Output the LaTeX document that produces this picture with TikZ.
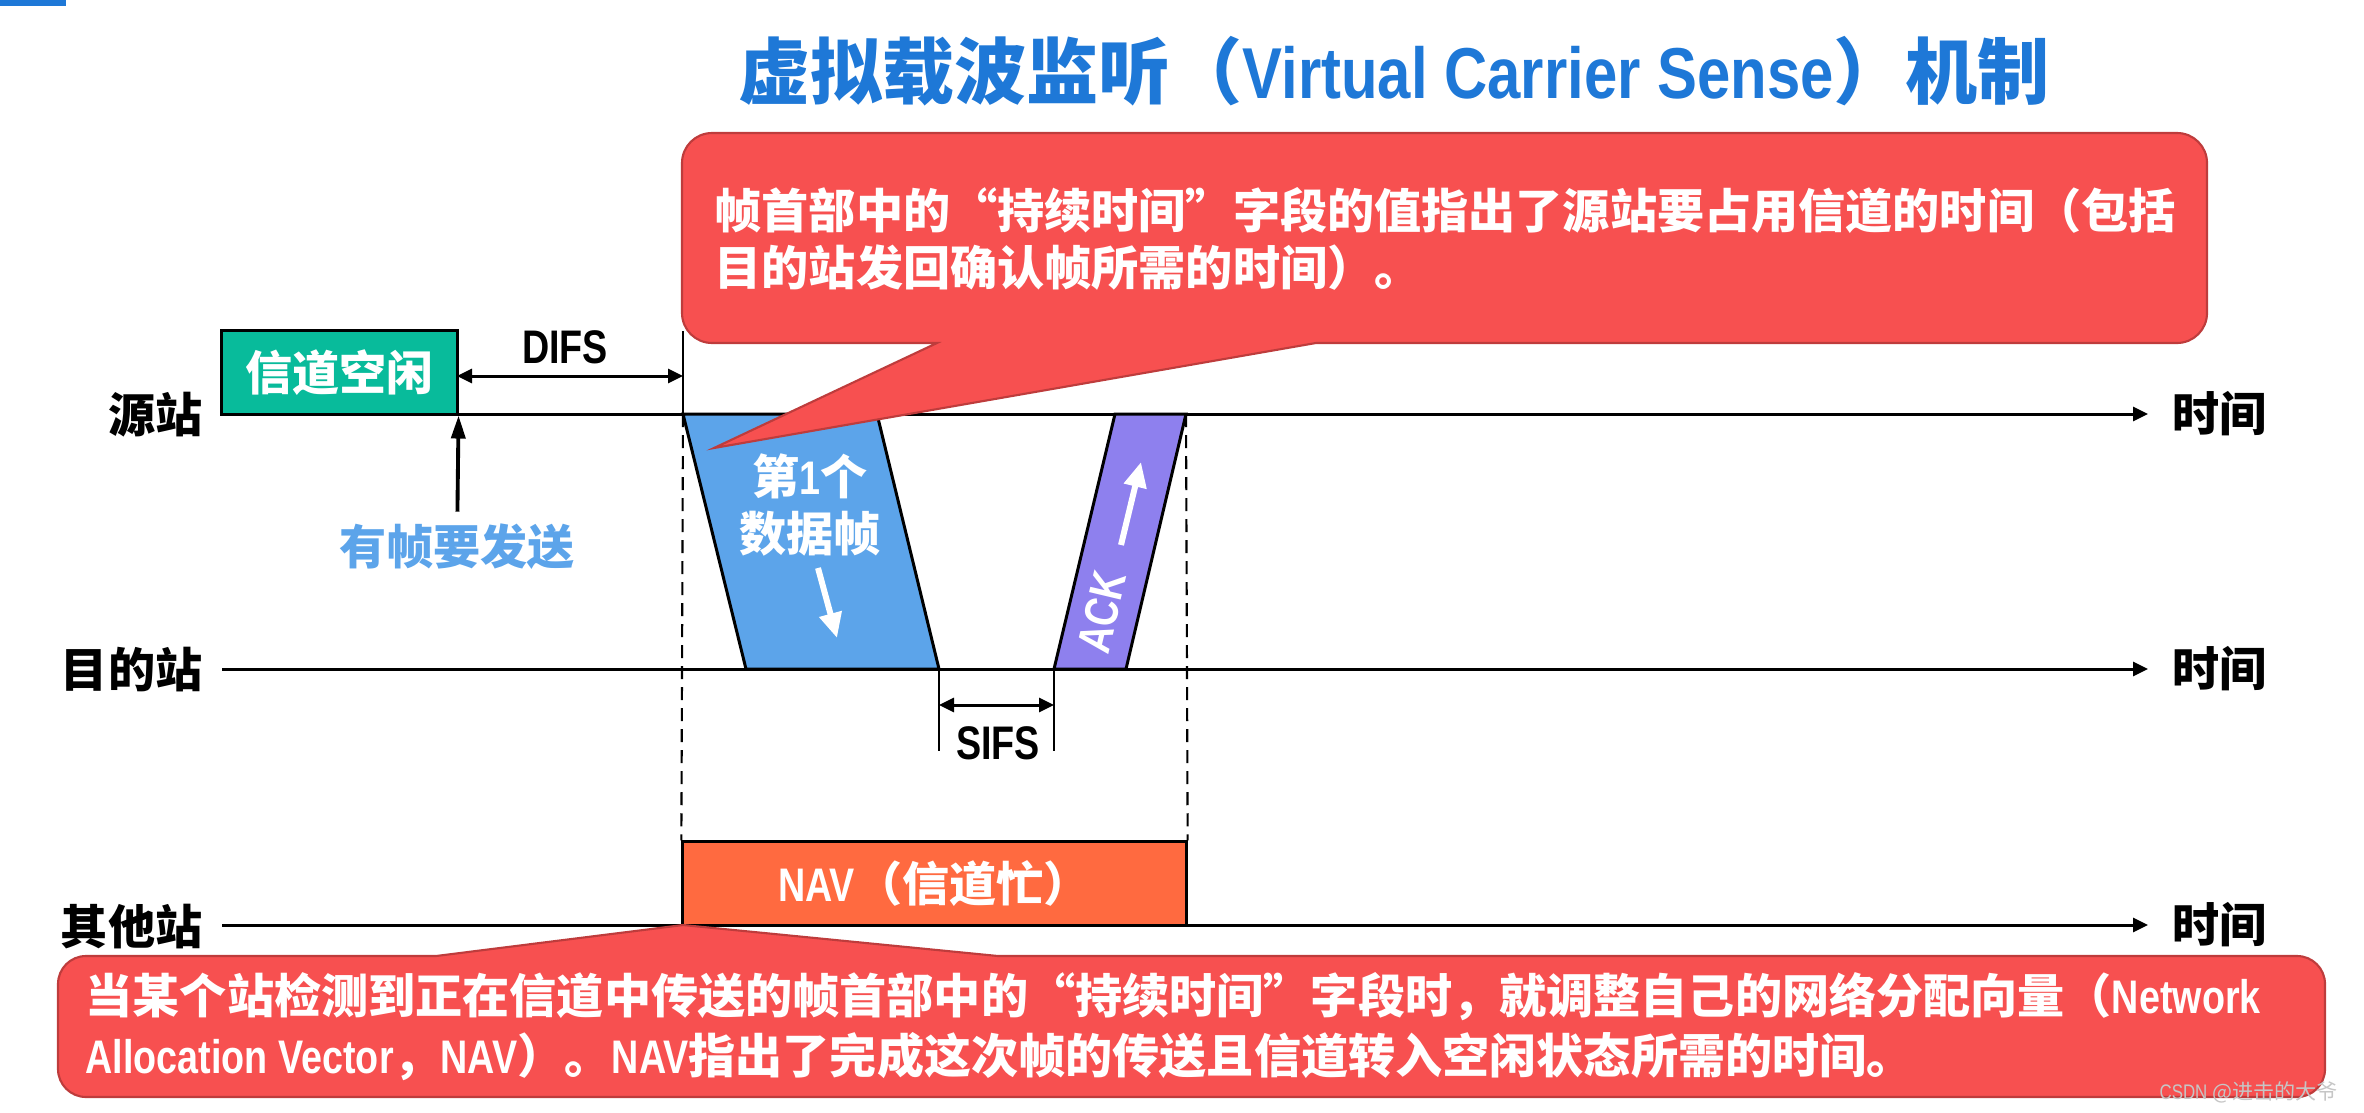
\documentclass[tikz,border=0pt]{standalone}
\usepackage{fontspec}
\setmainfont{Noto Sans CJK SC}
\newfontfamily\lat{Liberation Sans}[FakeStretch=0.8]
\newfontfamily\titlelat{Liberation Sans}[FakeStretch=0.83]
\usetikzlibrary{arrows.meta,positioning}

\definecolor{titlecol}{RGB}{30,120,215}
\definecolor{idlecol}{RGB}{8,187,155}
\definecolor{framecol}{RGB}{92,164,234}
\definecolor{ackcol}{RGB}{142,128,238}
\definecolor{navcol}{RGB}{255,106,64}
\definecolor{notecol}{RGB}{247,80,80}
\definecolor{noteedge}{RGB}{190,60,60}
\definecolor{wantcol}{RGB}{92,164,234}

\newcommand\bodyfont{\bfseries\fontsize{13.4}{16.2}\selectfont}

\begin{document}
\begin{tikzpicture}[x=0.01cm,y=0.01cm,
    >={Triangle[length=0.15cm,width=0.14cm]},
    timeline/.style={->,line width=0.85pt},
    station/.style={anchor=east,inner sep=0pt,font=\bodyfont},
    timetag/.style={inner sep=0pt,font=\bodyfont},
    dimline/.style={<->,line width=0.85pt},
    stopline/.style={line width=0.7pt},
    guide/.style={line width=0.6pt,dash pattern=on 0.13cm off 0.08cm},
    slot/.style={draw,line width=0.85pt,minimum height=0.83cm,inner sep=0pt,text=white,font=\bodyfont},
    flowarrow/.style={draw=white,line width=1.7pt,-{Triangle[length=0.25cm,width=0.22cm]}},
    callout/.style={fill=notecol,draw=noteedge,line width=0.6pt},
    notetext/.style={anchor=west,align=left,inner sep=0pt,text=white,font=\bodyfont}
  ]
  \useasboundingbox (0,0) rectangle (2364,-1112);
  \fill[titlecol] (0,0) rectangle (66,-6);

  \node[text=titlecol,font=\bfseries\fontsize{20.5}{24}\selectfont] (title) at (1394,-71)
    {虚拟载波监听（{\titlelat Virtual Carrier Sense}）机制};

  % three stations
  \coordinate (s0) at (222,-414); \coordinate (s1) at (2148,-414);
  \coordinate (d0) at (222,-669); \coordinate (d1) at (2148,-669);
  \coordinate (o0) at (222,-925); \coordinate (o1) at (2148,-925);
  \draw[timeline] (s0) -- (s1);
  \draw[timeline] (d0) -- (d1);
  \draw[timeline] (o0) -- (o1);
  \node[station] (src) at (203,-415) {源站};
  \node[station] (dst) at (203,-670) {目的站};
  \node[station] (oth) at (203,-927) {其他站};
  \node[timetag,right=0.24cm of s1] (srct) {时间};
  \node[timetag,right=0.24cm of d1] (dstt) {时间};
  \node[timetag,right=0.24cm of o1] (otht) {时间};

  % idle + DIFS
  \node[slot,fill=idlecol,minimum width=2.35cm] (idle) at (339.5,-372.5) {信道空闲};
  \coordinate (f0) at (683,-414);
  \coordinate (f0up) at (683,-331);
  \draw[stopline] (f0) -- (f0up);
  \coordinate (difsL) at (457,-376); \coordinate (difsR) at (683,-376);
  \draw[dimline] (difsL) -- (difsR);
  \node[font=\bodyfont\lat] (difs) at (565,-347) {DIFS};
  \node[text=wantcol,font=\bodyfont] (want) at (457,-547) {有帧要发送};
  \draw[line width=1.1pt,-{Triangle[length=0.23cm,width=0.14cm]}] (want) -- (idle.south east);

  % data frame and ACK
  \filldraw[fill=framecol,line width=0.85pt] (f0) -- (877,-414) -- (939,-669) -- (746,-669) -- cycle;
  \node[text=white,align=center,font=\bodyfont] (data) at (810,-505) {第{\lat 1}个\\数据帧};
  \draw[flowarrow] (818,-568) -- (837,-638);
  \coordinate (a1) at (1186,-414);
  \filldraw[fill=ackcol,line width=0.85pt] (1054,-669) -- (1126,-669) -- (a1) -- (1115,-414) -- cycle;
  \node[text=white,rotate=76.6,font=\bodyfont\lat] (ack) at (1102,-612) {ACK};
  \draw[flowarrow] (1121,-545) -- (1141,-462);

  % SIFS
  \coordinate (sifsL) at (939,-669); \coordinate (sifsLd) at (939,-751);
  \coordinate (sifsR) at (1054,-669); \coordinate (sifsRd) at (1054,-751);
  \draw[stopline] (sifsL) -- (sifsLd);
  \draw[stopline] (sifsR) -- (sifsRd);
  \draw[dimline] (939,-705) -- (1054,-705);
  \node[font=\bodyfont\lat] (sifs) at (998,-743) {SIFS};

  % NAV
  \node[slot,fill=navcol,minimum width=5.03cm] (nav) at (934.5,-883.5) {{\lat NAV}（信道忙）};
  \draw[guide] (f0) -- (nav.north west);
  \draw[guide] (a1) -- (nav.north east);

  % callouts
  \draw[callout] (937,-343) -- (714,-448) -- (1316,-343) -- (2177,-343)
    arc[start angle=270,end angle=360,radius=30] -- (2207,-163)
    arc[start angle=0,end angle=90,radius=30] -- (712,-133)
    arc[start angle=90,end angle=180,radius=30] -- (682,-313)
    arc[start angle=180,end angle=270,radius=30] -- cycle;
  \node[notetext] (notetop) at (714,-239)
    {帧首部中的“持续时间”字段的值指出了源站要占用信道的时间（包括\\目的站发回确认帧所需的时间）。};

  \draw[callout] (998,-956) -- (683,-925) -- (436,-956) -- (86,-956)
    arc[start angle=90,end angle=180,radius=28] -- (58,-1069)
    arc[start angle=180,end angle=270,radius=28] -- (2297,-1097)
    arc[start angle=270,end angle=360,radius=28] -- (2325,-984)
    arc[start angle=0,end angle=90,radius=28] -- cycle;
  \node[notetext,font=\bfseries\fontsize{13.4}{17}\selectfont] (notebot) at (85,-1027)
    {当某个站检测到正在信道中传送的帧首部中的“持续时间”字段时，就调整自己的网络分配向量（{\lat Network}\\{\lat Allocation Vector}，{\lat NAV}）。{\lat NAV}指出了完成这次帧的传送且信道转入空闲状态所需的时间。};

  \node[anchor=east,text=gray!45,font=\fontsize{6}{7}\selectfont] (wm) at (2350,-1092) {{\lat CSDN} @进击的大爷};
\end{tikzpicture}
\end{document}
